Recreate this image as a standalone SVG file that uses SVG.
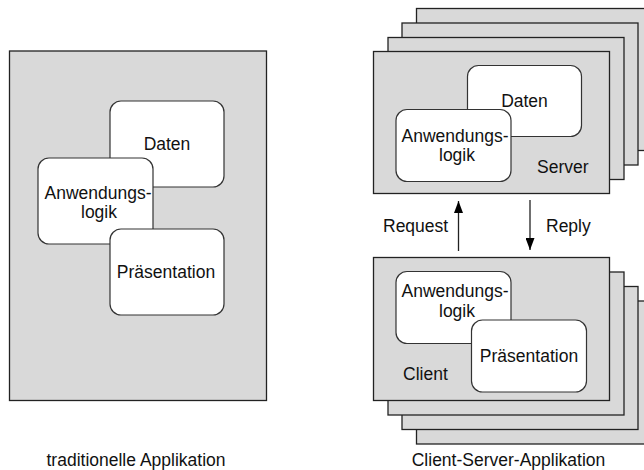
<svg xmlns="http://www.w3.org/2000/svg" width="644" height="470" viewBox="0 0 644 470">
<defs>
<style>
.frame{fill:#d9d9d9;stroke:#222;stroke-width:1.3}
.box{fill:#fff;stroke:#333;stroke-width:1.2}
text{font-family:"Liberation Sans",Arial,sans-serif;font-size:17.5px;fill:#111}
.c{text-anchor:middle}
.conn{stroke:#222;stroke-width:1.3;fill:none}
</style>
<marker id="ah" markerUnits="userSpaceOnUse" markerWidth="12" markerHeight="9" refX="12" refY="4.5" orient="auto">
<path d="M0,0 L12,4.5 L0,9 z" fill="#000"/>
</marker>
</defs>
<rect width="644" height="470" fill="#fff"/>

<g id="traditionelle">
<rect class="frame" x="9.5" y="51" width="257" height="349.5"/>
<g id="t-daten">
<rect class="box" x="110" y="101" width="114" height="86" rx="11"/>
<text class="c" x="167" y="150">Daten</text>
</g>
<g id="t-logik">
<rect class="box" x="38" y="158" width="115" height="86" rx="11"/>
<text class="c" x="98" y="198.5">Anwendungs-</text>
<text class="c" x="99" y="217.5">logik</text>
</g>
<g id="t-praes">
<rect class="box" x="110" y="229" width="114" height="86" rx="11"/>
<text class="c" x="166" y="277.5">Präsentation</text>
</g>
<text class="c" x="136" y="466">traditionelle Applikation</text>
</g>

<g id="server">
<rect class="frame" x="416.5" y="8.5" width="236" height="142"/>
<rect class="frame" x="402" y="23" width="236" height="142"/>
<rect class="frame" x="388" y="37.5" width="236" height="142"/>
<rect class="frame" x="373.5" y="51.5" width="236" height="142"/>
<g id="s-daten">
<rect class="box" x="467.5" y="65.5" width="114" height="71" rx="11"/>
<text class="c" x="524.5" y="106.5">Daten</text>
</g>
<g id="s-logik">
<rect class="box" x="396" y="109.5" width="115" height="72" rx="11"/>
<text class="c" x="455" y="141.5">Anwendungs-</text>
<text class="c" x="457" y="160.5">logik</text>
</g>
<text x="537" y="172.5" font-size="16.5">Server</text>
</g>

<g id="client">
<rect class="frame" x="416.5" y="301" width="236" height="143"/>
<rect class="frame" x="402" y="286.5" width="236" height="143"/>
<rect class="frame" x="388" y="272" width="236" height="143"/>
<rect class="frame" x="373.5" y="257.5" width="236" height="143"/>
<g id="c-logik">
<rect class="box" x="396" y="271.5" width="115" height="72" rx="11"/>
<text class="c" x="455" y="296.5">Anwendungs-</text>
<text class="c" x="457" y="316.5">logik</text>
</g>
<g id="c-praes">
<rect class="box" x="471.5" y="320" width="115" height="72" rx="11"/>
<text class="c" x="529" y="361.5">Präsentation</text>
</g>
<text x="403" y="380">Client</text>
<text class="c" x="508.5" y="466">Client-Server-Applikation</text>
</g>

<g id="connectors">
<line class="conn" x1="458.5" y1="251" x2="458.5" y2="201" marker-end="url(#ah)"/>
<line class="conn" x1="530" y1="200" x2="530" y2="250" marker-end="url(#ah)"/>
<text x="383" y="231.5">Request</text>
<text x="546" y="231.5">Reply</text>
</g>
</svg>
